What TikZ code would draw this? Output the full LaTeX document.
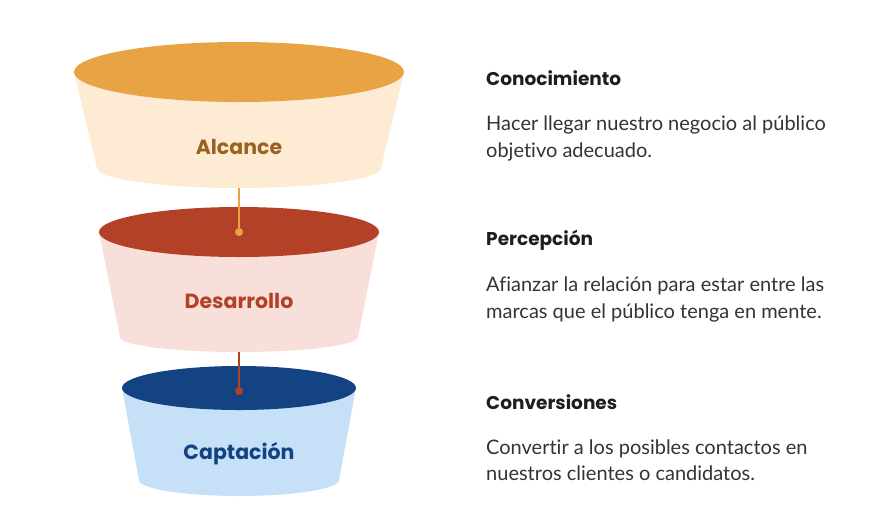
\documentclass[tikz,border=0pt]{standalone}
\usepackage{fontspec}
\setmainfont{Lato}[Ligatures=NoCommon]
\newfontfamily\poppins{Poppins}
\usetikzlibrary{positioning}

\definecolor{alcTop}{HTML}{E8A444}
\definecolor{alcBody}{HTML}{FDEBD3}
\definecolor{alcText}{HTML}{99621F}
\definecolor{desTop}{HTML}{B24128}
\definecolor{desBody}{HTML}{F9DFD9}
\definecolor{capTop}{HTML}{134383}
\definecolor{capBody}{HTML}{C5E0F7}
\definecolor{ink}{HTML}{1E1E1E}
\definecolor{inkSoft}{HTML}{333333}

\tikzset{
	label/.style={font=\poppins\bfseries\fontsize{20.5}{24}\selectfont, inner sep=0pt},
	heading/.style={anchor=west, inner sep=0pt, text=ink, font=\poppins\bfseries\fontsize{18.5}{22}\selectfont},
	info/.style={anchor=west, inner sep=0pt, align=left, text=inkSoft, font=\fontsize{20}{26.5}\selectfont},
	dot/.style={circle, inner sep=0pt, minimum size=8pt},
}

\begin{document}
\begin{tikzpicture}[x=1pt, y=-1pt]
	\useasboundingbox (0,0) rectangle (885,525);
	% funnels
	\fill[alcBody] (74,72) -- (97,168) arc[start angle=180, end angle=360, x radius=142, y radius=-20] -- (404,72) -- cycle;
	\fill[alcTop] (239,72) ellipse[x radius=165, y radius=30];
	\fill[desBody] (99,232) -- (120,337) arc[start angle=180, end angle=360, x radius=119, y radius=-15] -- (379,232) -- cycle;
	\fill[desTop] (239,232) ellipse[x radius=140, y radius=25];
	\fill[capBody] (122,388) -- (139,480) arc[start angle=180, end angle=360, x radius=100, y radius=-16] -- (356,388) -- cycle;
	\fill[capTop] (239,388) ellipse[x radius=117, y radius=22];

	\node[label, text=alcText] (alc) at (239,147) {Alcance};
	\node[label, text=desTop] (des) at (239,301) {Desarrollo};
	\node[label, text=capTop] (cap) at (239,454) {Captación};

	% connectors
	\coordinate (alcEnd) at (239,188);
	\coordinate (desEnd) at (239,352);
	\node[dot, fill=alcTop] (desDot) at (239,232) {};
	\node[dot, fill=desTop] (capDot) at (239,391) {};
	\draw[alcTop, line width=2pt] (alcEnd) -- (desDot);
	\draw[desTop, line width=2pt] (desEnd) -- (capDot);

	% texts
	\node[heading] (conTitle) at (486,78) {Conocimiento};
	\node[info] (conText) at (486,138.5) {Hacer llegar nuestro negocio al público\\objetivo adecuado.};
	\node[heading] (perTitle) at (486,240) {Percepción};
	\node[info] (perText) at (486,299.5) {Afianzar la relación para estar entre las\\marcas que el público tenga en mente.};
	\node[heading] (convTitle) at (486,402) {Conversiones};
	\node[info] (convText) at (486,460) {Convertir a los posibles contactos en\\nuestros clientes o candidatos.};
\end{tikzpicture}
\end{document}
